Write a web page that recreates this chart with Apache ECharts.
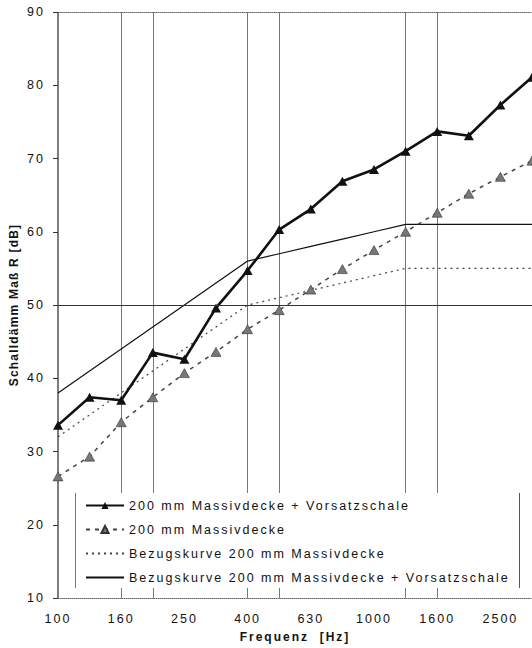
<!DOCTYPE html>
<html>
<head>
<meta charset="utf-8">
<script src="https://cdn.jsdelivr.net/npm/echarts@6/dist/echarts.min.js"></script>
<style>
  html, body { margin: 0; padding: 0; background: #fff; }
  #chart { width: 532px; height: 648px; }
  /* widely tracked lettering, slightly tighter on the vertical axis title */
  #chart svg text { letter-spacing: 2px; }
  #chart svg text[style*="Liberation"] { letter-spacing: 1.2px; }
</style>
</head>
<body>
<div id="chart"></div>
<script>
// Third-octave band centre frequencies (Hz)
const freqs = ['100', '125', '160', '200', '250', '315', '400', '500', '630', '800',
               '1000', '1250', '1600', '2000', '2500', '3150'];

// Measured sound reduction index R (dB)
const slabWithLining = [33.6, 37.4, 37.0, 43.5, 42.6, 49.6, 54.7, 60.3, 63.1, 66.9,
                        68.5, 71.0, 73.7, 73.1, 77.3, 81.1];
const slabBare = [26.6, 29.3, 34.0, 37.4, 40.7, 43.6, 46.7, 49.3, 52.1, 54.9,
                  57.5, 60.0, 62.6, 65.2, 67.5, 69.7];

// Shifted reference curves (dB)
const refBare = [32, 35, 38, 41, 44, 47, 50, 51, 52, 53, 54, 55, 55, 55, 55, 55];
const refLining = [38, 41, 44, 47, 50, 53, 56, 57, 58, 59, 60, 61, 61, 61, 61, 61];

// Bands marked with a vertical guide line, and the horizontal guide level
const guideFreqs = ['160', '200', '400', '500', '1250', '1600'];
const guideLevel = 50;

const names = [
  '200 mm Massivdecke + Vorsatzschale',
  '200 mm Massivdecke',
  'Bezugskurve 200 mm Massivdecke',
  'Bezugskurve 200 mm Massivdecke + Vorsatzschale'
];

const FONT = 'Arial';
const chart = echarts.init(document.getElementById('chart'), null, { renderer: 'svg' });

chart.setOption({
  animation: false,
  backgroundColor: '#fff',
  grid: { left: 58, right: -5, top: 12, bottom: 50 },
  xAxis: [{
    type: 'category',
    data: freqs,
    boundaryGap: false,
    name: 'Frequenz  [Hz]',
    nameLocation: 'middle',
    nameGap: 33,
    nameTextStyle: { fontFamily: FONT, fontWeight: 'bold', fontSize: 12, color: '#111' },
    axisLine: { lineStyle: { color: '#666', width: 1, type: [1, 1] } },
    axisTick: { show: false },
    axisLabel: { interval: 1, margin: 14, fontFamily: FONT, fontSize: 12.5, color: '#111' },
    splitLine: {
      show: true,
      interval: (i, v) => guideFreqs.includes(v),
      lineStyle: { color: '#777', width: 1 }
    }
  }, {
    type: 'category',
    data: freqs,
    boundaryGap: false,
    position: 'top',
    axisLine: { lineStyle: { color: '#666', width: 1, type: [1, 1] } },
    axisTick: { show: false },
    axisLabel: { show: false },
    splitLine: { show: false }
  }],
  yAxis: {
    type: 'value',
    min: 10,
    max: 90,
    interval: 10,
    name: 'Schalldämm Maß R [dB]',
    nameLocation: 'middle',
    nameGap: 33,
    nameTextStyle: { fontFamily: 'Liberation Sans', fontWeight: 'bold', fontSize: 12, color: '#111' },
    axisLine: { show: true, lineStyle: { color: '#777', width: 2, type: [1, 1] } },
    axisTick: { show: true, length: 5, lineStyle: { color: '#333' } },
    axisLabel: { margin: 13, fontFamily: FONT, fontSize: 12.5, color: '#111' },
    splitLine: { show: false }
  },
  legend: {
    orient: 'vertical',
    left: 85,
    top: 499,
    padding: 0,
    itemGap: 11,
    itemWidth: 38,
    itemHeight: 9,
    z: 6,
    textStyle: { fontFamily: FONT, fontSize: 12.5, color: '#111' },
    data: [
      { name: names[0] },
      { name: names[1] },
      { name: names[2], itemStyle: { opacity: 0 } },
      { name: names[3], itemStyle: { opacity: 0 } }
    ]
  },
  graphic: [
    { type: 'rect', z: 5, silent: true,
      shape: { x: 75, y: 493, width: 445, height: 95 },
      style: { fill: '#fff' } },
    { type: 'line', z: 5, silent: true,
      shape: { x1: 75.5, y1: 493, x2: 75.5, y2: 588 },
      style: { stroke: '#777', lineWidth: 1 } },
    { type: 'line', z: 5, silent: true,
      shape: { x1: 519.5, y1: 493, x2: 519.5, y2: 588 },
      style: { stroke: '#555', lineWidth: 1 } }
  ],
  series: [
    {
      name: names[0],
      type: 'line',
      data: slabWithLining,
      symbol: 'triangle',
      symbolSize: [10, 9],
      z: 4,
      lineStyle: { color: '#111', width: 2.6 },
      itemStyle: { color: '#111' }
    },
    {
      name: names[1],
      type: 'line',
      data: slabBare,
      symbol: 'triangle',
      symbolSize: [10, 9],
      z: 3,
      lineStyle: { color: '#444', width: 1.5, type: [4, 5] },
      itemStyle: { color: '#777', borderColor: '#333', borderWidth: 0.6 }
    },
    {
      name: names[2],
      type: 'line',
      data: refBare,
      symbol: 'none',
      z: 2,
      lineStyle: { color: '#444', width: 1.2, type: [2, 4] },
      itemStyle: { color: '#444' }
    },
    {
      name: names[3],
      type: 'line',
      data: refLining,
      symbol: 'none',
      z: 2,
      lineStyle: { color: '#111', width: 1.2 },
      itemStyle: { color: '#111' },
      markLine: {
        silent: true,
        symbol: 'none',
        label: { show: false },
        lineStyle: { color: '#333', width: 1, type: 'solid' },
        data: [{ yAxis: guideLevel }]
      }
    }
  ]
});
</script>
</body>
</html>
